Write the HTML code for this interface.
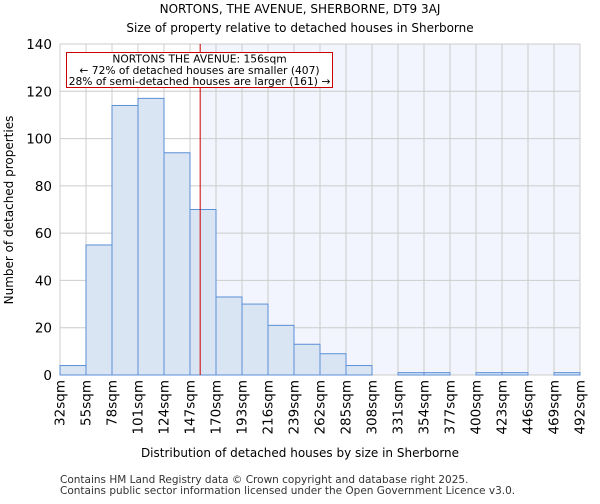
<!DOCTYPE html>
<html><head><meta charset="utf-8"><style>
body{margin:0;background:#fff;font-family:"DejaVu Sans","Liberation Sans",sans-serif;}
</style></head><body>
<svg id="chart" width="600" height="500" xmlns="http://www.w3.org/2000/svg" font-family="DejaVu Sans, Liberation Sans, sans-serif">
<text x="300" y="13" text-anchor="middle" font-size="12">NORTONS, THE AVENUE, SHERBORNE, DT9 3AJ</text>
<text x="300" y="32" text-anchor="middle" font-size="12">Size of property relative to detached houses in Sherborne</text>
<g id="plot"></g>
<text x="300" y="457" text-anchor="middle" font-size="12">Distribution of detached houses by size in Sherborne</text>
<text transform="translate(13,210) rotate(-90)" text-anchor="middle" font-size="12">Number of detached properties</text>
<text x="60" y="483" font-size="10.5" fill="#333">Contains HM Land Registry data © Crown copyright and database right 2025.</text>
<text x="60" y="494" font-size="10.5" fill="#333">Contains public sector information licensed under the Open Government Licence v3.0.</text>
</svg>
<script>
const binStarts=[32,55,78,101,124,147,170,193,216,239,262,285,308,331,354,377,400,423,446,469];
const counts=[4,55,114,117,94,70,33,30,21,13,9,4,0,1,1,0,1,1,0,1];
const xTickLabels=["32sqm","55sqm","78sqm","101sqm","124sqm","147sqm","170sqm","193sqm","216sqm","239sqm","262sqm","285sqm","308sqm","331sqm","354sqm","377sqm","400sqm","423sqm","446sqm","469sqm","492sqm"];
const yTicks=[0,20,40,60,80,100,120,140];
const markerValue=156;
const binWidth=23;
const L=60,R=580,T=44,B=375,xMin=32,xMax=492,yMax=140;
const sx=v=>L+(v-xMin)/(xMax-xMin)*(R-L);
const sy=v=>B-v/yMax*(B-T);
const NS="http://www.w3.org/2000/svg";
const g=document.getElementById('plot');
function mk(t,a){const e=document.createElementNS(NS,t);for(const k in a)e.setAttribute(k,a[k]);g.appendChild(e);return e;}
let e=mk('rect',{x:L,y:T,width:R-L,height:B-T,fill:'#fff'});


e=mk('rect',{x:sx(markerValue),y:T,width:R-sx(markerValue),height:B-T,fill:'#f2f5fd'});


xTickLabels.forEach((lab,i)=>{const v=xMin+i*binWidth;
 e=mk('line',{x1:sx(v),x2:sx(v),y1:T,y2:B,stroke:'#cccccc','stroke-width':1});
 
 
 e=mk('text',{transform:`translate(${sx(v)+4.5},380) rotate(-90)`,'text-anchor':'end','font-size':13.5});
 e.textContent=lab;
 
 
});
yTicks.forEach(v=>{
 e=mk('line',{x1:L,x2:R,y1:sy(v),y2:sy(v),stroke:'#cccccc','stroke-width':1});
 
 
 e=mk('text',{x:L-8,y:sy(v)+5,'text-anchor':'end','font-size':13.5});
 e.textContent=v;
 
 
});
counts.forEach((c,i)=>{if(c<=0)return;
 e=mk('rect',{x:sx(binStarts[i]),y:sy(c),width:sx(binStarts[i]+binWidth)-sx(binStarts[i]),height:B-sy(c),fill:'#dae5f4',stroke:'#5b8fd6','stroke-width':1});
 
 
});
e=mk('line',{x1:sx(markerValue),x2:sx(markerValue),y1:T,y2:B,stroke:'#cc0000','stroke-width':1});


e=mk('rect',{x:66.5,y:52.5,width:266,height:35,fill:'#fff',stroke:'#cc0000','stroke-width':1});


["NORTONS THE AVENUE: 156sqm","← 72% of detached houses are smaller (407)","28% of semi-detached houses are larger (161) →"].forEach((t,i)=>{
 e=mk('text',{x:199.5,y:62.5+i*11.3,'text-anchor':'middle','font-size':10.7});
 e.textContent=t;
 
 
});
</script>
</body></html>
